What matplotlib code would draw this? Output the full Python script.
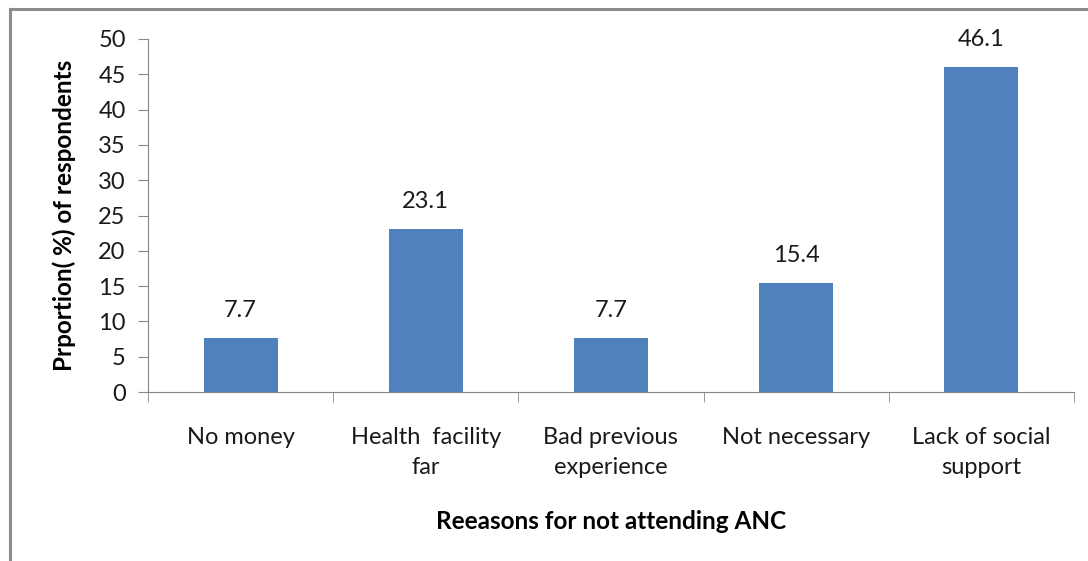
import matplotlib
matplotlib.use('Agg')
import matplotlib.pyplot as plt
from matplotlib.lines import Line2D

plt.rcParams['font.family'] = ['Lato', 'DejaVu Sans']

reasons = ['No money', 'Health  facility\nfar', 'Bad previous\nexperience',
           'Not necessary', 'Lack of social\nsupport']
percent = [7.7, 23.1, 7.7, 15.4, 46.1]
yticks = [0, 5, 10, 15, 20, 25, 30, 35, 40, 45, 50]

fig = plt.figure(figsize=(10.88, 5.61), dpi=100)
ax = fig.add_axes([0.136, 0.3012, 0.851, 0.6293])

# outer chart frame (only top and left visible)
fig.add_artist(Line2D([10 / 1088, 1.0], [1 - 9 / 561, 1 - 9 / 561], color='#8c8c8c', lw=2.2))
fig.add_artist(Line2D([10 / 1088, 10 / 1088], [0, 1 - 9 / 561], color='#8c8c8c', lw=2.2))

x = list(range(len(reasons)))
ax.bar(x, percent, width=0.4, color='#4f81bd')
for xi, v in zip(x, percent):
    ax.text(xi, v + 2.4, '%.1f' % v, ha='center', va='bottom', fontsize=17, color='#1a1a1a')

ax.set_xlim(-0.5, len(reasons) - 0.5)
ax.set_ylim(0, 50)
ax.set_yticks(yticks)
ax.set_xticks(x)
ax.set_xticklabels(reasons, fontsize=17, linespacing=1.55, color='#1a1a1a')
ax.set_xticks([i - 0.5 for i in range(len(reasons) + 1)], minor=True)
ax.tick_params(axis='x', which='major', length=0, pad=25)
ax.tick_params(axis='x', which='minor', length=7, color='#868686')
ax.tick_params(axis='y', length=7, color='#868686', labelsize=17, labelcolor='#1a1a1a', pad=9)

for s in ['top', 'right']:
    ax.spines[s].set_visible(False)
for s in ['left', 'bottom']:
    ax.spines[s].set_color('#868686')

ax.set_ylabel('Prportion( %) of respondents', fontsize=17.5, fontweight='bold', labelpad=16)
ax.set_xlabel('Reeasons for not attending ANC', fontsize=17.5, fontweight='bold', labelpad=23)

fig.savefig('out.png', dpi=100)
